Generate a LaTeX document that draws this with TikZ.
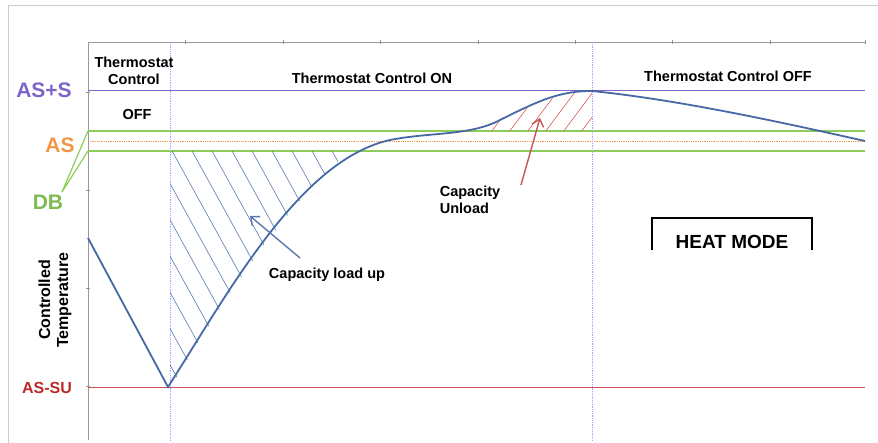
\documentclass[tikz,border=0pt]{standalone}
\usepackage{fontspec}
\setmainfont{Liberation Sans}
\usetikzlibrary{arrows.meta}
\definecolor{cpur}{RGB}{125,100,200}
\definecolor{cgrn}{RGB}{140,205,90}
\definecolor{cora}{RGB}{245,150,70}
\definecolor{cred}{RGB}{190,40,40}
\definecolor{ccur}{RGB}{70,105,165}
\definecolor{chb}{RGB}{90,120,175}
\definecolor{chr}{RGB}{215,90,90}
\begin{document}
\begin{tikzpicture}[x=1pt,y=-1pt,
  lbl/.style={font=\bfseries\fontsize{14.5}{17}\selectfont,align=center},
  big/.style={font=\bfseries\fontsize{21}{24}\selectfont},
  axis/.style={draw=gray!80,line width=0.8pt},
  curve/.style={draw=ccur,line width=1.8pt},
  vline/.style={draw=blue!35,densely dotted,line width=0.8pt},
  arr/.style={-{Straight Barb[length=7pt,width=12pt]},line width=1.4pt}]
\useasboundingbox (0,0) rectangle (878,443);
\draw[gray!40] (8,443) -- (8,5) -- (878,5);
% axes
\draw[axis] (88,440) -- (88,42) -- (865,42);
\foreach \x in {185,283,380,478,575,672,770,865} \draw[axis] (\x,40) -- (\x,44);
\foreach \y in {92,190,288,386} \draw[axis] (86,\y) -- (90,\y);
% levels
\draw[cpur,line width=1pt] (88,91) -- (865,91);
\draw[cgrn,line width=1.2pt] (88,131) -- (865,131);
\draw[cgrn,line width=1.2pt] (88,151) -- (865,151);
\draw[cora,densely dotted,line width=0.8pt] (88,141) -- (865,141);
\draw[cred!80,line width=0.8pt] (88,387) -- (865,387);
\draw[vline] (170,42) -- (170,440);
\draw[vline] (592,42) -- (592,440);
% hatches
\begin{scope}
\clip (170,151) -- (170,387) -- (175,380) .. controls (230,290) and (290,200) .. (350,151) -- cycle;
\foreach \i in {-12,...,14} \draw[chb,line width=0.6pt] (170+\i*20-40,151-40) -- ++(160,290);
\end{scope}
\begin{scope}
\clip (480,131) .. controls (520,110) and (560,91) .. (592,91) -- (592,131) -- cycle;
\foreach \i in {0,...,8} \draw[chr,line width=0.6pt] (470+\i*18,160) -- ++(60,-80);
\end{scope}
% curve
\draw[curve] (88,238) -- (168,387)
  .. controls (230,290) and (300,160) .. (390,140)
  .. controls (430,132) and (470,136) .. (500,120)
  .. controls (540,100) and (560,91) .. (592,91)
  .. controls (680,100) and (780,122) .. (865,141);
% arrows
\node[lbl] (load) at (327,275) {Capacity load up};
\coordinate (lt) at (250,216);
\draw[arr,chb] (300,258) -- (lt);
\node[lbl,align=left] (unl) at (470,200) {Capacity\\Unload};
\coordinate (ut) at (540,118);
\draw[arr,cred!80] (521,185) -- (ut);
% texts
\node[lbl] (tc) at (134,71) {Thermostat\\Control};
\node[lbl] (off) at (137,115) {OFF};
\node[lbl] (on) at (372,78) {Thermostat Control ON};
\node[lbl] (toff) at (728,76) {Thermostat Control OFF};
\draw[line width=1.4pt] (652,250) -- (652,218) -- (812,218) -- (812,250);
\node[big,font=\bfseries\fontsize{19}{22}\selectfont] (hm) at (732,242) {HEAT MODE};
\node[big,cpur] (ass) at (44,90) {AS+S};
\node[big,cora] (as) at (60,145) {AS};
\node[big,cgrn!90!black] (db) at (48,202) {DB};
\coordinate (g1) at (88,131); \coordinate (g2) at (88,151);
\draw[cgrn,line width=1.2pt] (62,192) -- (g1) (62,192) -- (g2);
\node[font=\bfseries\fontsize{16}{19}\selectfont,cred] (su) at (47,388) {AS-SU};
\node[lbl,font=\bfseries\fontsize{16}{18}\selectfont,rotate=90] (ct) at (55,300) {Controlled\\Temperature};
\end{tikzpicture}
\end{document}
